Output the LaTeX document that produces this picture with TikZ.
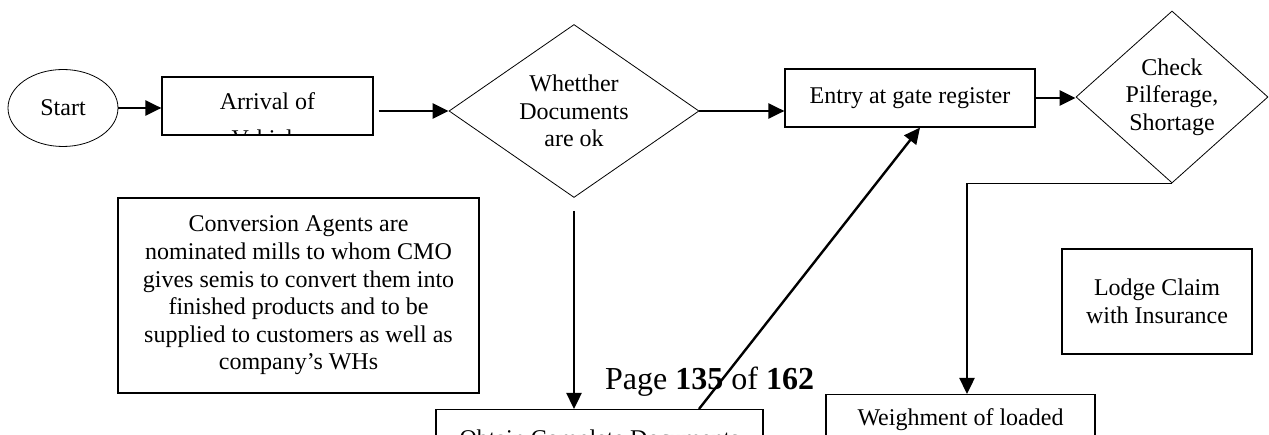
\documentclass[tikz,border=0pt]{standalone}
\usepackage{fontspec}
\setmainfont{Liberation Serif}
\usetikzlibrary{positioning, arrows.meta, shapes, calc}

\begin{document}
\begin{tikzpicture}[
  x=1pt, y=-1pt,
  font=\fontsize{24}{27.6}\selectfont,
  box/.style={draw, line width=1.2pt, inner sep=0pt, align=center},
  dec/.style={draw, diamond, line width=0.8pt, inner sep=0pt, align=center},
  flow/.style={line width=2.4pt, -{Triangle[length=16pt, width=15pt]}},
  plain/.style={line width=0.8pt}
]
  % page part that is shown
  \useasboundingbox (0,0) rectangle (1269,435);
  \clip (0,0) rectangle (1269,435);

  % top row
  \node[draw, ellipse, line width=0.8pt, minimum width=110pt, minimum height=77pt, inner sep=0pt] (start) at (63,108) {Start};
  \node[box, minimum width=211pt, minimum height=58pt] (arrival) at (267.5,106) {};
  \begin{scope}
    \clip (arrival.south west) rectangle (arrival.north east);
    \node[align=center] (arrivaltxt) at (267.5,119.6) {Arrival of\\[10pt]Vehicle};
  \end{scope}
  \node[dec, minimum width=250pt, minimum height=173pt, shape aspect=1.445] (docs) at (574,111) {Whetther\\Documents\\are ok};
  \node[box, minimum width=250pt, minimum height=58pt] (entry) at (910,98) {Entry at gate register};
  \node[dec, minimum width=192pt, minimum height=172pt, shape aspect=1.116] (check) at (1172,97) {Check\\Pilferage,\\Shortage};

  % notes
  \node[box, minimum width=361pt, minimum height=195pt] (conv) at (298.5,295.5)
    {Conversion Agents are\\nominated mills to whom CMO\\gives semis to convert them into\\finished products and to be\\supplied to customers as well as\\company’s WHs};
  \node[box, minimum width=190pt, minimum height=105pt] (lodge) at (1157,301.5) {Lodge Claim\\with Insurance};

  % bottom row, cut by the page end
  \node[box, anchor=north, minimum width=327pt, inner ysep=20.6pt] (obtain) at (599.5,409) {Obtain Complete Documents};
  \node[box, anchor=north, minimum width=269pt, inner ysep=14.5pt] (weigh) at (960.5,394) {Weighment of loaded};
  \node[font=\fontsize{32}{38}\selectfont, anchor=base west, inner sep=0pt] (pageno) at (605,390) {Page \textbf{135} of \textbf{162}};

  % connectors
  \draw[flow] (start.east) -- (start.east -| arrival.west);
  \draw[flow, shorten <=5pt] (arrival.east |- docs.west) -- (docs.west);
  \draw[flow] (docs.east) -- (docs.east -| entry.west);
  \draw[flow] (entry.east) -- (entry.east -| check.west);
  \draw[flow, shorten <=13pt] (docs.south) -- (docs.south |- obtain.north);
  \draw[flow] ([xshift=99.5pt]obtain.north) -- ([xshift=10pt]entry.south);
  \coordinate (turn) at ([xshift=6.5pt]weigh.north |- check.south);
  \draw[plain] (check.south) -- (turn);
  \draw[flow] (turn) -- (turn |- weigh.north);
\end{tikzpicture}
\end{document}
